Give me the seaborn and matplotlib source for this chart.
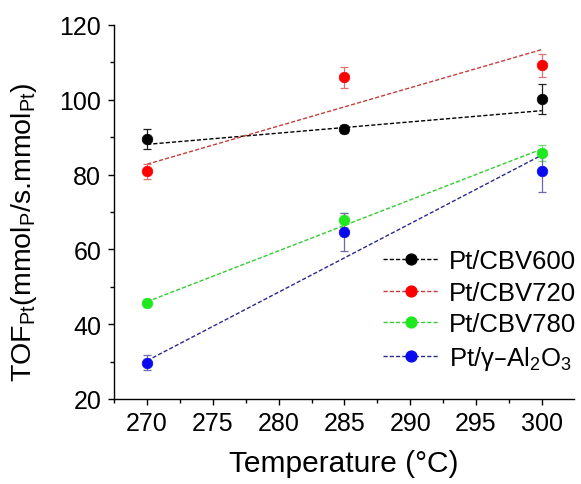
import numpy as np
import pandas as pd
import matplotlib
matplotlib.use("Agg")
import matplotlib.pyplot as plt
from matplotlib.lines import Line2D
from matplotlib.ticker import MultipleLocator
import seaborn as sns

temperature = [270, 285, 300]
series_names = ["Pt/CBV600", "Pt/CBV720", "Pt/CBV780", r"Pt/$\gamma$–Al$_2$O$_3$"]
cbv600 = [89.5, 92.2, 100.2]
cbv600_err = [2.7, 1.0, 4.0]
cbv720 = [80.9, 106.0, 109.2]
cbv720_err = [2.0, 2.9, 3.0]
cbv780 = [45.8, 67.8, 85.8]
cbv780_err = [1.0, 1.8, 2.2]
al2o3 = [29.7, 64.6, 80.9]
al2o3_err = [2.0, 5.0, 5.6]

marker_colors = ["#000000", "#ff0000", "#1ee81e", "#0a0aee"]
line_colors = ["#000000", "#c83c3c", "#33cc33", "#2a2a8c"]
err_colors = ["#202020", "#e07070", "#70dd70", "#6a6aaa"]

sns.set_theme(style="ticks")
plt.rcParams["font.family"] = ["Liberation Sans", "DejaVu Sans"]
plt.rcParams["mathtext.default"] = "regular"
plt.rcParams["text.color"] = "black"
plt.rcParams["axes.labelcolor"] = "black"

rows = []
for name, vals, errs in zip(series_names, [cbv600, cbv720, cbv780, al2o3],
                            [cbv600_err, cbv720_err, cbv780_err, al2o3_err]):
    for t, v, e in zip(temperature, vals, errs):
        rows.append({"series": name, "T": t, "TOF": v, "err": e})
df = pd.DataFrame(rows)

fig = plt.figure(figsize=(5.81, 4.85), dpi=100)
ax = fig.add_axes([113.5 / 581, 1 - 400 / 485, (574 - 113.5) / 581, (400 - 26) / 485])

dash = (0, (3.0, 1.5))
handles = []
for i, name in enumerate(series_names):
    d = df[df.series == name]
    x = d["T"].to_numpy(float)
    y = d["TOF"].to_numpy(float)
    e = d["err"].to_numpy(float)
    coef = np.polyfit(x, y, 1, w=1.0 / e)
    fit = pd.DataFrame({"T": [x.min(), x.max()], "fit": np.polyval(coef, [x.min(), x.max()])})
    sns.lineplot(data=fit, x="T", y="fit", ax=ax, color=line_colors[i],
                 linestyle=dash, linewidth=1.0, zorder=2)
    ax.errorbar(x, y, yerr=e, fmt="none", ecolor=err_colors[i], elinewidth=0.9,
                capsize=3.2, capthick=0.9, zorder=3)
    sns.scatterplot(data=d, x="T", y="TOF", ax=ax, color=marker_colors[i],
                    s=58, edgecolor=marker_colors[i], linewidth=0.5, zorder=4)
    handles.append(Line2D([0], [0], color=line_colors[i], linestyle=dash,
                          linewidth=1.0, marker="o", markersize=7.8,
                          markerfacecolor=marker_colors[i], markeredgecolor=marker_colors[i]))

ax.set_xlim(267.45, 302.45)
ax.set_ylim(20, 120)
ax.xaxis.set_major_locator(MultipleLocator(5))
ax.xaxis.set_minor_locator(MultipleLocator(2.5))
ax.yaxis.set_major_locator(MultipleLocator(20))
ax.yaxis.set_minor_locator(MultipleLocator(10))
ax.tick_params(which="major", direction="out", length=4.3, width=1.0, labelsize=18,
               color="black", labelcolor="black", pad=4.5)
ax.tick_params(which="minor", direction="out", length=3.0, width=1.0, color="black")
for s in ["top", "right"]:
    ax.spines[s].set_visible(False)
for s in ["left", "bottom"]:
    ax.spines[s].set_linewidth(1.0)
    ax.spines[s].set_color("black")

ax.set_xlabel("Temperature (°C)", fontsize=21.5, labelpad=10, color="black")
ax.set_ylabel(r"TOF$_{Pt}$(mmol$_P$/s.mmol$_{Pt}$)", fontsize=20.5, color="black")
ax.yaxis.set_label_coords(-0.162, 0.449)

leg = fig.legend(handles, series_names, loc="upper left",
                 bbox_to_anchor=(383 / 581, 1 - 250 / 485), bbox_transform=fig.transFigure,
                 frameon=False, fontsize=18.5, numpoints=1, handlelength=2.15,
                 handletextpad=0.4, labelspacing=0.3, borderpad=0, borderaxespad=0)
for t in leg.get_texts():
    t.set_color("black")

fig.savefig("out.png", dpi=100)
